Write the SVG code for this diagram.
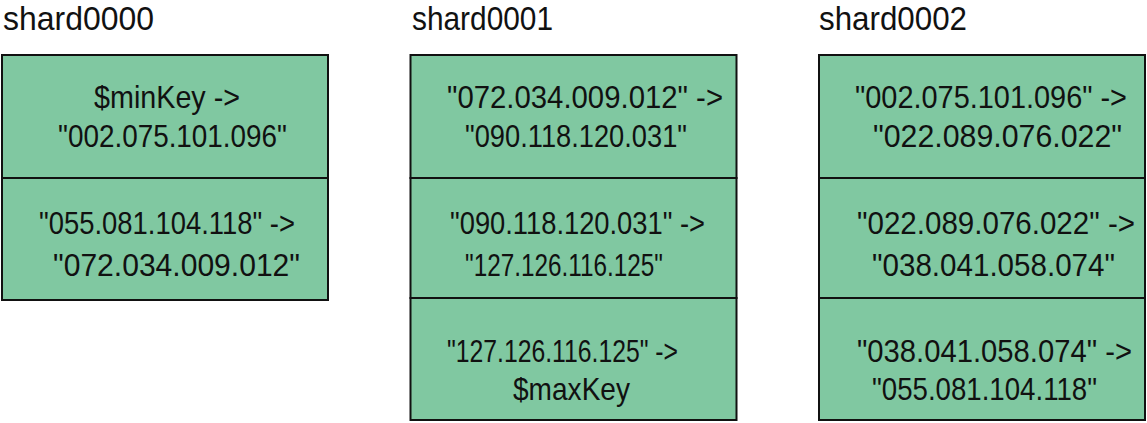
<svg xmlns="http://www.w3.org/2000/svg" width="1147" height="423" viewBox="0 0 1147 423">
<style>
  .cell { fill: #80c8a1; stroke: #111; stroke-width: 2; }
  .t { font-family: "Liberation Sans", Arial, sans-serif; font-size: 32px; fill: #111; }
  .title { font-family: "Liberation Sans", Arial, sans-serif; font-size: 33px; fill: #111; }
</style>
<rect width="1147" height="423" fill="#ffffff"/>

<g id="shard0000">
  <text class="title" x="3" y="30" textLength="151" lengthAdjust="spacingAndGlyphs">shard0000</text>
  <g id="shard0000-chunk1">
    <rect class="cell" x="2" y="55" width="326" height="123"/>
    <text class="t" x="94" y="108" textLength="146" lengthAdjust="spacingAndGlyphs">$minKey -&gt;</text>
    <text class="t" x="58" y="147" textLength="229" lengthAdjust="spacingAndGlyphs">"002.075.101.096"</text>
  </g>
  <g id="shard0000-chunk2">
    <rect class="cell" x="2" y="178" width="326" height="122"/>
    <text class="t" x="39" y="234" textLength="256" lengthAdjust="spacingAndGlyphs">"055.081.104.118" -&gt;</text>
    <text class="t" x="53" y="276" textLength="247" lengthAdjust="spacingAndGlyphs">"072.034.009.012"</text>
  </g>
</g>

<g id="shard0001">
  <text class="title" x="412" y="30" textLength="141" lengthAdjust="spacingAndGlyphs">shard0001</text>
  <g id="shard0001-chunk1">
    <rect class="cell" x="410.5" y="55" width="326" height="123"/>
    <text class="t" x="447" y="108" textLength="276" lengthAdjust="spacingAndGlyphs">"072.034.009.012" -&gt;</text>
    <text class="t" x="465" y="147" textLength="222" lengthAdjust="spacingAndGlyphs">"090.118.120.031"</text>
  </g>
  <g id="shard0001-chunk2">
    <rect class="cell" x="410.5" y="178" width="326" height="120"/>
    <text class="t" x="450" y="234" textLength="255" lengthAdjust="spacingAndGlyphs">"090.118.120.031" -&gt;</text>
    <text class="t" x="465" y="276" textLength="198" lengthAdjust="spacingAndGlyphs">"127.126.116.125"</text>
  </g>
  <g id="shard0001-chunk3">
    <rect class="cell" x="410.5" y="298" width="326" height="122"/>
    <text class="t" x="447" y="362" textLength="231" lengthAdjust="spacingAndGlyphs">"127.126.116.125" -&gt;</text>
    <text class="t" x="513" y="400" textLength="117" lengthAdjust="spacingAndGlyphs">$maxKey</text>
  </g>
</g>

<g id="shard0002">
  <text class="title" x="819" y="30" textLength="148" lengthAdjust="spacingAndGlyphs">shard0002</text>
  <g id="shard0002-chunk1">
    <rect class="cell" x="819" y="55" width="326" height="123"/>
    <text class="t" x="855" y="108" textLength="272" lengthAdjust="spacingAndGlyphs">"002.075.101.096" -&gt;</text>
    <text class="t" x="873" y="147" textLength="249" lengthAdjust="spacingAndGlyphs">"022.089.076.022"</text>
  </g>
  <g id="shard0002-chunk2">
    <rect class="cell" x="819" y="178" width="326" height="120"/>
    <text class="t" x="857" y="234" textLength="278" lengthAdjust="spacingAndGlyphs">"022.089.076.022" -&gt;</text>
    <text class="t" x="872" y="276" textLength="243" lengthAdjust="spacingAndGlyphs">"038.041.058.074"</text>
  </g>
  <g id="shard0002-chunk3">
    <rect class="cell" x="819" y="298" width="326" height="122"/>
    <text class="t" x="857" y="362" textLength="275" lengthAdjust="spacingAndGlyphs">"038.041.058.074" -&gt;</text>
    <text class="t" x="872" y="400" textLength="225" lengthAdjust="spacingAndGlyphs">"055.081.104.118"</text>
  </g>
</g>

<g id="connectors"/>
</svg>
